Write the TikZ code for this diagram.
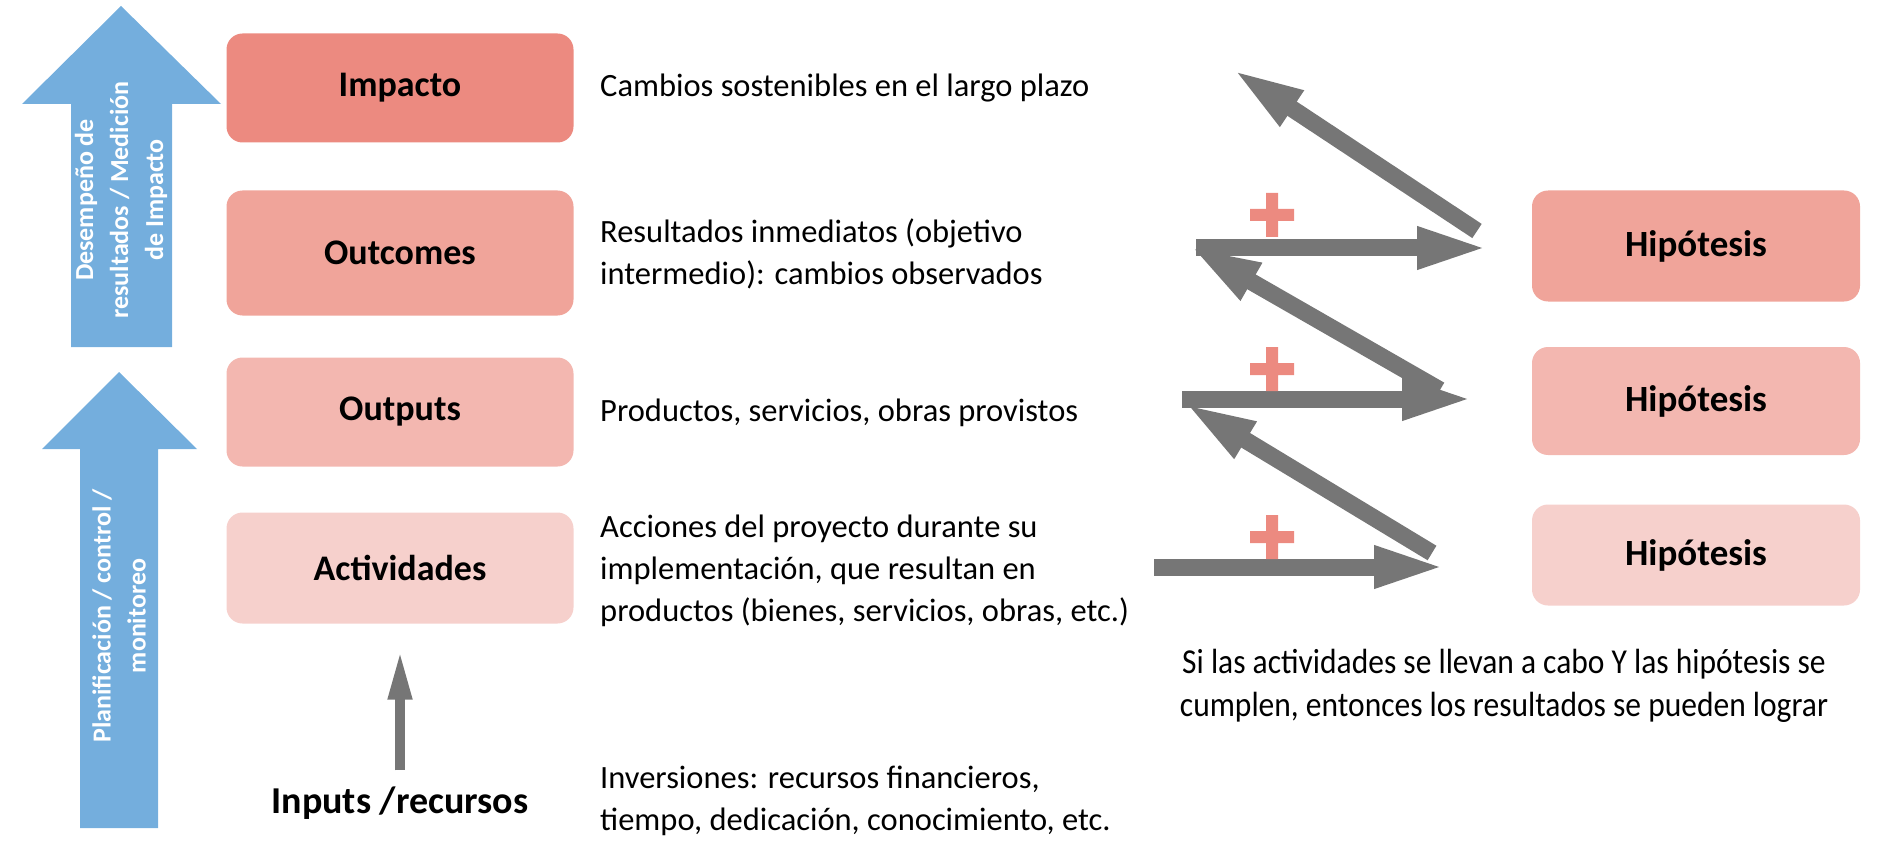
\documentclass[tikz,border=0pt]{standalone}
\usepackage{fontspec}
\setmainfont{Carlito}
\newfontfamily\condfont[FakeStretch=0.9]{Carlito}
\usetikzlibrary{arrows.meta}

\definecolor{bluearr}{RGB}{116,174,221}
\definecolor{salmon1}{RGB}{236,138,128}
\definecolor{salmon2}{RGB}{240,164,154}
\definecolor{salmon3}{RGB}{243,183,176}
\definecolor{salmon4}{RGB}{246,208,204}
\definecolor{grayarr}{RGB}{118,118,118}

\begin{document}
\begin{tikzpicture}[x=1pt, y=-1pt,
    box/.style={rounded corners=16pt, minimum width=347pt, font=\fontsize{36}{40}\selectfont\bfseries},
    hyp/.style={rounded corners=16pt, minimum width=328pt, font=\fontsize{37}{40}\selectfont\bfseries},
    desc/.style={anchor=west, align=left, inner sep=0pt, font=\fontsize{32.5}{42}\selectfont},
    bluetext/.style={rotate=90, align=center, text=white, font=\fontsize{26}{35}\selectfont\bfseries},
    grayarrow/.style={draw=grayarr, line width=17pt, -{Triangle[length=72pt,width=38pt]}}]
    \useasboundingbox (0,0) rectangle (1894,850);

    % blue arrows on the left
    \fill[bluearr] (121,6) -- (221,104) -- (172,104) -- (172,347) -- (71,347) -- (71,104) -- (22,104) -- cycle;
    \fill[bluearr] (119,372) -- (197,449) -- (158,449) -- (158,828) -- (80,828) -- (80,449) -- (42,449) -- cycle;
    \node (B1) at (121,200) [bluetext] {Desempeño de\\resultados / Medición\\de Impacto};
    \node (B2) at (119,616) [bluetext] {Planificación / control /\\monitoreo};

    % chain of results
    \node (imp) at (400,88) [box, fill=salmon1, minimum height=109pt] {Impacto};
    \node (out) at (400,253) [box, fill=salmon2, minimum height=125pt] {Outcomes};
    \node (outp) at (400,412) [box, fill=salmon3, minimum height=109pt] {Outputs};
    \node (act) at (400,568) [box, fill=salmon4, minimum height=111pt] {Actividades};
    \node (inp) at (400,803) [inner sep=0pt, font=\fontsize{38}{40}\selectfont\bfseries] {Inputs /recursos};

    \draw [draw=grayarr, line width=10pt, -{Triangle[length=50pt,width=22pt]}, shorten <=16pt, shorten >=26pt] (inp) -- (act);

    \node (timp) at (600,88) [desc] {Cambios sostenibles en el largo plazo};
    \node (tout) at (600,254) [desc] {Resultados inmediatos (objetivo\\intermedio): cambios observados};
    \node (toutp) at (600,413) [desc] {Productos, servicios, obras provistos};
    \node (tact) at (600,571) [desc] {Acciones del proyecto durante su\\implementación, que resultan en\\productos (bienes, servicios, obras, etc.)};
    \node (tinp) at (600,801) [desc] {Inversiones: recursos financieros,\\tiempo, dedicación, conocimiento, etc.};

    % hypotheses
    \node (hyp1) at (1696,246) [hyp, fill=salmon2, minimum height=111pt] {Hipótesis};
    \node (hyp2) at (1696,401) [hyp, fill=salmon3, minimum height=108pt] {Hipótesis};
    \node (hyp3) at (1696,555) [hyp, fill=salmon4, minimum height=101pt] {Hipótesis};

    \coordinate (d1s) at (1477,231); \coordinate (d1e) at (1232,69);
    \coordinate (h1s) at (1196,248); \coordinate (h1e) at (1489,248);
    \coordinate (d2s) at (1440,390); \coordinate (d2e) at (1189,246);
    \coordinate (h2s) at (1182,399); \coordinate (h2e) at (1474,399);
    \coordinate (d3s) at (1432,553); \coordinate (d3e) at (1184,403);
    \coordinate (h3s) at (1154,567); \coordinate (h3e) at (1446,567);

    \draw [grayarrow] (d1s) -- (d1e);
    \draw [grayarrow] (h1s) -- (h1e);
    \draw [grayarrow] (d2s) -- (d2e);
    \draw [grayarrow] (h2s) -- (h2e);
    \draw [grayarrow] (d3s) -- (d3e);
    \draw [grayarrow] (h3s) -- (h3e);

    \foreach \py in {215,369,537}
        \fill[salmon1] (1250,\py-6) rectangle (1294,\py+6) (1266,\py-22) rectangle (1278,\py+22);

    \node (concl) at (1504,686) [align=center, font=\condfont\fontsize{35}{43}\selectfont] {Si las actividades se llevan a cabo Y las hipótesis se\\cumplen, entonces los resultados se pueden lograr};
\end{tikzpicture}
\end{document}
